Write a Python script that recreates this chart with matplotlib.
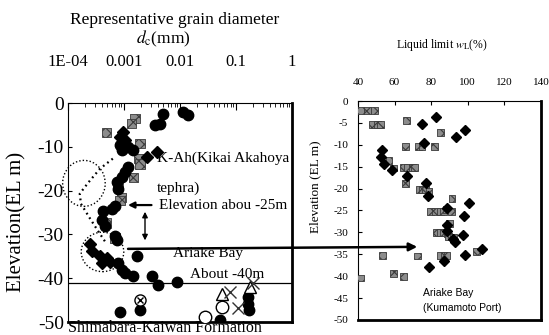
import matplotlib
matplotlib.use("Agg")
import matplotlib.pyplot as plt
from matplotlib.patches import Ellipse, ConnectionPatch

plt.rcParams['font.family'] = ['Liberation Serif', 'DejaVu Serif']
plt.rcParams['mathtext.fontset'] = 'stix'
plt.rcParams['axes.unicode_minus'] = False
plt.rcParams['hatch.linewidth'] = 0.8

# ---- left panel: representative grain diameter d_c (mm) vs elevation (EL m)
circ_d = [0.00504, 0.00440, 0.00358, 0.01146, 0.01406, 0.00085, 0.00119, 0.00147,
          0.00091, 0.00119, 0.00104, 0.00091, 0.00074, 0.00079, 0.00069, 0.00060,
          0.00043, 0.00040, 0.00046, 0.00069, 0.00074, 0.00079, 0.00091, 0.00104,
          0.00147, 0.00169, 0.00313, 0.00409, 0.00873, 0.00085, 0.00193, 0.166,
          0.166, 0.173, 0.0518]
circ_el = [-2.4, -4.7, -5.1, -2.0, -2.8, -9.7, -10.1, -10.8, -10.8, -14.7, -15.8,
           -17.0, -18.1, -19.7, -23.5, -24.3, -24.7, -26.6, -28.1, -30.4, -31.2,
           -36.6, -38.1, -38.9, -39.6, -35.0, -39.6, -41.5, -40.8, -47.7, -47.2,
           -44.2, -45.8, -47.3, -49.5]

sq_d = [0.00157, 0.00137, 0.00049, 0.00193, 0.00180, 0.00193, 0.00147, 0.00091,
        0.00049, 0.00078, 0.00069, 0.00085]
sq_el = [-3.5, -4.7, -6.8, -9.3, -12.7, -13.9, -17.0, -21.6, -27.4, -18.9, -30.8, -22.3]

dia_d = [0.00097, 0.00085, 0.00384, 0.00254, 0.000247, 0.000265, 0.000372,
         0.000491, 0.000400, 0.000562, 0.00105]
dia_el = [-6.6, -7.8, -11.2, -12.4, -32.3, -33.9, -35.0, -35.4, -36.6, -36.2, -8.5]

tri_d = [0.0556, 0.178]
tri_el = [-43.5, -41.9]
x_d = [0.0782, 0.110, 0.200]
x_el = [-43.1, -46.9, -41.2]
ocirc_d = [0.0556, 0.0279]
ocirc_el = [-46.5, -48.9]
hcirc_d = [0.00193]
hcirc_el = [-44.9]

# dotted trace between the two circled zones
trace_d = [0.000631, 0.000372, 0.000229, 0.000162, 0.000170, 0.000245, 0.000347, 0.000457]
trace_el = [-12.7, -15.0, -18.2, -20.7, -23.0, -26.3, -29.3, -31.6]

d_ticks = [1e-4, 1e-3, 1e-2, 1e-1, 1]
d_ticklabels = ['1E-04', '0.001', '0.01', '0.1', '1']

# ---- right panel: liquid limit w_L (%) vs elevation, Ariake Bay (Kumamoto Port)
wl_sq = [41.6, 45.3, 48.9, 48, 50.5, 52.4, 66.6, 85, 66, 73, 75, 82, 57, 59.4,
         65, 67, 70, 71, 66, 73.4, 75.3, 77, 78.8, 91.4, 79.7, 82.4, 85, 86.9,
         88.6, 91, 90, 83, 85, 86.9, 88.7, 89.3, 92, 53.5, 72.5, 85, 87, 88.7,
         104.7, 59.4, 64.9, 41.6]
el_sq = [-2.2, -2.2, -2.2, -5.4, -5.4, -5.4, -4.5, -7.2, -10.3, -10.3, -10.3, -10.4,
         -13.5, -15.3, -15.2, -15.2, -15.2, -15.2, -18.9, -20.2, -20.2, -20.2, -20.6,
         -22.3, -25.2, -25.2, -25.2, -25.2, -24.8, -25.2, -27.9, -30.0, -30.0, -30.0,
         -30.2, -31.0, -31.2, -35.2, -35.4, -35.2, -35.2, -35.2, -34.3, -39.4, -40.0,
         -40.4]
wl_dia = [82.4, 75.2, 93.5, 98.6, 76, 53.4, 52.5, 54.3, 58.5, 67, 77.3, 78.5, 100.8,
          88.5, 98, 88.7, 88.7, 97.6, 93, 92, 108, 98.5, 86.9, 78.8]
el_dia = [-3.7, -5.2, -8.3, -6.6, -9.7, -11.2, -12.7, -14.3, -15.8, -17.2, -18.7,
          -21.8, -23.3, -24.5, -26.2, -28.3, -29.6, -30.6, -32.2, -31.6, -33.7, -35.2,
          -36.5, -38.0]

fig = plt.figure(figsize=(5.49, 3.35), dpi=100)
ax1 = fig.add_axes([0.1239, 0.0388, 0.408, 0.6537])
ax2 = fig.add_axes([0.652, 0.0448, 0.3333, 0.6537])

sq_style = dict(marker='s', facecolor='#8c8c8c', edgecolor='#3a3a3a', hatch='xxx',
                linewidths=0.6, zorder=3)

# left panel
ax1.set_xscale('log')
ax1.scatter(sq_d, sq_el, s=45, **sq_style)
ax1.plot(circ_d, circ_el, 'o', color='black', ms=7.5, zorder=4)
ax1.plot(dia_d, dia_el, 'D', color='black', ms=6.5, zorder=4)
ax1.plot(tri_d, tri_el, '^', mfc='white', mec='black', ms=9, mew=1.0, zorder=5)
ax1.plot(x_d, x_el, 'x', color='#333333', ms=9, mew=1.0, zorder=5)
ax1.plot(ocirc_d, ocirc_el, 'o', mfc='white', mec='black', ms=9, mew=1.0, zorder=5)
ax1.plot(hcirc_d, hcirc_el, 'o', mfc='white', mec='black', ms=8, mew=1.0, zorder=5)
ax1.plot(hcirc_d, hcirc_el, 'x', color='black', ms=5, mew=1.0, zorder=6)
ax1.plot(trace_d, trace_el, color='black', lw=1.6, ls=(0, (0.8, 1.6)), zorder=2)

ax1.axhline(-41.2, color='black', lw=0.9, zorder=1)

for cx, cy, w, h in [(0.071, 0.633, 0.19, 0.21), (0.154, 0.32, 0.19, 0.18)]:
    ax1.add_patch(Ellipse((cx, cy), w, h, transform=ax1.transAxes, fill=False,
                          ls=(0, (1, 1.5)), lw=1.0, color='black', clip_on=False))

ax1.annotate('', xy=(0.00105, -23.3), xytext=(0.00347, -23.3),
             arrowprops=dict(arrowstyle='-|>', lw=1.6, color='black', mutation_scale=9))
ax1.annotate('', xy=(0.00237, -24.2), xytext=(0.00237, -32.0),
             arrowprops=dict(arrowstyle='<|-|>', lw=1.0, color='black', mutation_scale=8))

ax1.set_xlim(1e-4, 1)
ax1.set_ylim(-50, 0)
ax1.xaxis.tick_top()
ax1.set_xticks(d_ticks)
ax1.set_xticklabels(d_ticklabels)
ax1.tick_params(axis='x', which='major', direction='in', length=5, pad=24, labelsize=12)
ax1.tick_params(axis='x', which='minor', direction='in', length=3)
ax1.set_yticks(range(-50, 1, 10))
ax1.tick_params(axis='y', direction='in', length=3, pad=3, labelsize=14)
for side in ['right', 'bottom']:
    ax1.spines[side].set_linewidth(2.0)

ann = dict(transform=ax1.transAxes, fontsize=11, va='center', ha='left', clip_on=False)
ax1.text(0.397, 0.749, 'K-Ah(Kikai Akahoya', **ann)
ax1.text(0.397, 0.612, 'tephra)', **ann)
ax1.text(0.406, 0.534, 'Elevation abou -25m', **ann)
ax1.text(0.469, 0.315, 'Ariake Bay', **ann)
ax1.text(0.545, 0.215, 'About -40m', **ann)
ax1.text(0.0, -0.027, 'Shimabara-Kaiwan Formation', transform=ax1.transAxes,
         fontsize=11.5, va='center', ha='left', clip_on=False)

fig.text(175 / 549, 1 - 20 / 335, 'Representative grain diameter', fontsize=12.5,
         ha='center', va='center')
fig.text(163 / 549, 1 - 39 / 335, r'$d_{\rm c}$(mm)', fontsize=12.5,
         ha='center', va='center')
fig.text(17 / 549, 1 - 222 / 335, 'Elevation(EL m)', fontsize=15, rotation=90,
         ha='center', va='center')

# right panel
ax2.scatter(wl_sq, el_sq, s=24, **sq_style)
ax2.plot(wl_dia, el_dia, 'D', color='black', ms=5, zorder=4)
ax2.set_xlim(40, 140)
ax2.set_ylim(-50, 0)
ax2.xaxis.tick_top()
ax2.set_xticks(range(40, 141, 20))
ax2.set_yticks(range(-50, 1, 5))
ax2.tick_params(axis='x', direction='in', length=3, pad=10, labelsize=8)
ax2.tick_params(axis='y', direction='in', length=3, pad=7, labelsize=8)
for side in ['right', 'bottom']:
    ax2.spines[side].set_linewidth(2.0)
fig.text(423 / 549, 1 - 293 / 335, 'Ariake Bay', family=['Liberation Sans', 'DejaVu Sans'],
         fontsize=7.5, ha='left', va='center')
fig.text(423 / 549, 1 - 308 / 335, '(Kumamoto Port)', family=['Liberation Sans', 'DejaVu Sans'],
         fontsize=7.5, ha='left', va='center')
fig.text(442 / 549, 1 - 45 / 335, r'Liquid limit $w_{\rm L}$(%)', fontsize=8.5,
         ha='center', va='center')
fig.text(315 / 549, 1 - 187 / 335, 'Elevation (EL m)', fontsize=9.5, rotation=90,
         ha='center', va='center')

# arrow linking the -33 m level to the right panel
con = ConnectionPatch(xyA=(0.00118, -33.3), coordsA=ax1.transData,
                      xyB=(72.4, -33.3), coordsB=ax2.transData,
                      arrowstyle='-|>', lw=1.8, color='black', mutation_scale=12, zorder=6)
fig.add_artist(con)

fig.savefig('out.png', dpi=100)
